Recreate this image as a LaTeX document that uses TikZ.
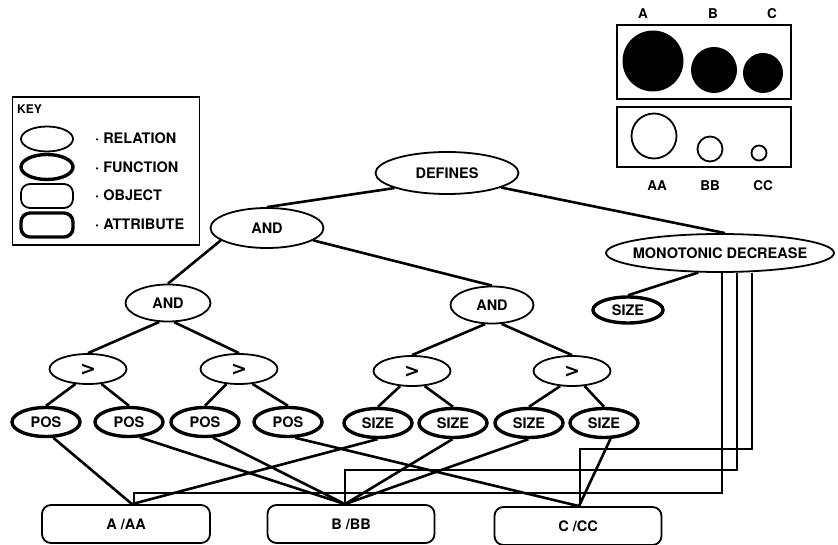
\documentclass[tikz,border=0pt]{standalone}
\usepackage{fontspec}
\setmainfont{TeX Gyre Heros}
\newfontfamily\dvfont{DejaVu Sans}
\usetikzlibrary{shapes.geometric}
\newcommand\mk[1]{\makebox[0pt]{#1}}
\newcommand\gtsym{\makebox[0pt]{\raisebox{-1.5pt}{\dvfont\fontsize{19}{19}\selectfont\bfseries >}}}
\begin{document}
\begin{tikzpicture}[x=1pt,y=-1pt,
  every node/.style={font=\fontsize{14.5}{16}\selectfont\bfseries, inner sep=0pt, text height=10.4pt, text depth=0pt},
  rel/.style={ellipse, draw, line width=1.8pt},
  fun/.style={ellipse, draw, line width=3.4pt},
  obj/.style={rectangle, rounded corners=9pt, draw, line width=1.8pt},
  attr/.style={rectangle, rounded corners=9pt, draw, line width=3.4pt},
  box/.style={rectangle, rounded corners=9pt, draw, line width=1.8pt, minimum width=167, minimum height=38},
  frame/.style={rectangle, draw, line width=1.8pt},
  link/.style={line width=2.6pt},
  gt/.style={rel, minimum width=77, minimum height=30},
  leaf/.style={fun, minimum width=68, minimum height=29},
  keyl/.style={anchor=west},
  small/.style={font=\fontsize{13.5}{15}\selectfont\bfseries}
]
\useasboundingbox (0,0) rectangle (838,545);

% ---------- key ----------
\node[frame, minimum width=187, minimum height=148] (keybox) at (106,171) {};
\node[anchor=west, font=\fontsize{12}{14}\selectfont\bfseries] (keyt) at (17,108) {KEY};
\node[rel, minimum width=52, minimum height=25] (krel) at (47,139) {};
\node[fun, minimum width=52, minimum height=25] (kfun) at (47,167) {};
\node[obj, minimum width=52, minimum height=24] (kobj) at (47,196) {};
\node[attr, minimum width=52, minimum height=24] (katt) at (47,225) {};
\node[keyl] (lrel) at (95,138) {· RELATION};
\node[keyl] (lfun) at (95,167) {· FUNCTION};
\node[keyl] (lobj) at (95,195) {· OBJECT};
\node[keyl] (latt) at (95,224) {· ATTRIBUTE};

% ---------- objects picture ----------
\node[frame, minimum width=174, minimum height=74] (topbox) at (704,62) {};
\node[frame, minimum width=174, minimum height=60] (botbox) at (704,137) {};
\node[small] (tA) at (643,13) {A};
\node[small] (tB) at (713,13) {B};
\node[small] (tC) at (772,13) {C};
\node[circle, fill, minimum size=61] (cA) at (653,61) {};
\node[circle, fill, minimum size=46] (cB) at (714,70) {};
\node[circle, fill, minimum size=40] (cC) at (763,73) {};
\node[circle, draw, line width=1.8pt, minimum size=45] (cAA) at (654,136) {};
\node[circle, draw, line width=1.8pt, minimum size=25] (cBB) at (710,149) {};
\node[circle, draw, line width=1.8pt, minimum size=15] (cCC) at (759,153) {};
\node[small] (tAA) at (657,185) {AA};
\node[small] (tBB) at (710,185) {BB};
\node[small] (tCC) at (763,185) {CC};

% ---------- tree ----------
\node[rel, minimum width=143, minimum height=42] (def) at (447,173) {\mk{DEFINES}};
\node[rel, minimum width=113, minimum height=40] (and1) at (267,228) {\mk{AND}};
\node[rel, minimum width=85, minimum height=37] (and2) at (168,303) {\mk{AND}};
\node[rel, minimum width=83, minimum height=37] (and3) at (492,305) {\mk{AND}};
\node[rel, minimum width=228, minimum height=38] (mono) at (720,253) {\mk{MONOTONIC DECREASE}};
\node[fun, minimum width=70, minimum height=26] (sizem) at (628,310) {\mk{SIZE}};

\node[gt] (gt1) at (88,369) {\gtsym};
\node[gt] (gt2) at (239,369) {\gtsym};
\node[gt] (gt3) at (412,371) {\gtsym};
\node[gt] (gt4) at (572,371) {\gtsym};

\node[leaf] (pos1) at (46,422) {\mk{POS}};
\node[leaf] (pos2) at (129,422) {\mk{POS}};
\node[leaf] (pos3) at (205,422) {\mk{POS}};
\node[leaf] (pos4) at (288,422) {\mk{POS}};
\node[leaf] (size1) at (378,423) {\mk{SIZE}};
\node[leaf] (size2) at (453,423) {\mk{SIZE}};
\node[leaf] (size3) at (529,423) {\mk{SIZE}};
\node[leaf] (size4) at (604,423) {\mk{SIZE}};

\node[box, minimum width=168] (oA) at (126,524) {\mk{A /AA}};
\node[box] (oB) at (351,524) {\mk{B /BB}};
\node[box] (oC) at (578,526) {\mk{C /CC}};

\coordinate (Aat) at ([xshift=6pt]oA.north);
\coordinate (Bat) at ([xshift=-6pt]oB.north);
\coordinate (Cat) at ([xshift=1pt]oC.north);

% tree edges
\draw[link] (def.196) -- (and1.north);
\draw[link] (def.345) -- ([xshift=5pt]mono.north);
\draw[link] (and1.195) -- (and2.north);
\draw[link] (and1.345) -- (and3.north);
\draw[link] (and2.245) -- (gt1.north);
\draw[link] (and2.288) -- (gt2.north);
\draw[link] (and3.250) -- (gt3.north);
\draw[link] (and3.297) -- (gt4.north);
\draw[link] (gt1.230) -- (pos1.north);
\draw[link] (gt1.312) -- (pos2.north);
\draw[link] (gt2.230) -- (pos3.north);
\draw[link] (gt2.312) -- (pos4.north);
\draw[link] (gt3.232) -- (size1.north);
\draw[link] (gt3.310) -- (size2.north);
\draw[link] (gt4.232) -- (size3.north);
\draw[link] (gt4.310) -- (size4.north);
\draw[link] (mono.222) -- (sizem.north);

% argument links
\draw[link] (pos1.295) -- (Aat);
\draw[link] (pos2.305) -- (Bat);
\draw[link] (pos3.297) -- (Bat);
\draw[link] (pos4.295) -- (Cat);
\draw[link] (size1.268) -- (Aat);
\draw[link] (size2.268) -- (Bat);
\draw[link] (size3.268) -- (Bat);
\draw[link] (size4.292) -- (Cat);

% monotonic decrease links
\draw[link] ([xshift=2pt]mono.south) -- ++(0,220) -| ([xshift=2pt]Aat);
\draw[link] ([xshift=17pt]mono.south) -- ++(0,197) -| (Bat);
\draw[link] ([xshift=32pt]mono.south) -- ++(0,176) -| ([xshift=1pt]Cat);
\end{tikzpicture}
\end{document}
